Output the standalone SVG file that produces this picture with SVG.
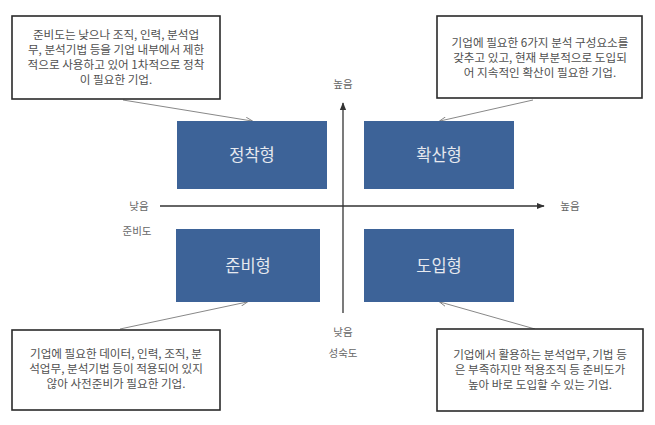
<svg xmlns="http://www.w3.org/2000/svg" width="655" height="425" viewBox="0 0 655 425">
<defs>
<style>
.note{fill:#fff;stroke:#2a2a2a;stroke-width:1.6}
.nt{font-family:"Noto Sans CJK KR","Liberation Sans",sans-serif;font-size:11.6px;fill:#505050;text-anchor:middle}
.blk{fill:#3d6398}
.bt{font-family:"Noto Sans CJK KR","Liberation Sans",sans-serif;font-size:16.5px;fill:#e6e9ef;text-anchor:middle}
.ax{stroke:#333;stroke-width:1.3;fill:none}
.lk{stroke:#888;stroke-width:1;fill:none}
.lbl{font-family:"Noto Sans CJK KR","Liberation Sans",sans-serif;font-size:10.5px;fill:#666;text-anchor:middle}
</style>
<marker id="ah" viewBox="0 0 10 10" refX="9" refY="5" markerWidth="6" markerHeight="6" orient="auto">
<path d="M0,1 L10,5 L0,9 Z" fill="#333"/>
</marker>
<marker id="al" viewBox="0 0 10 10" refX="9" refY="5" markerWidth="7" markerHeight="7" orient="auto">
<path d="M0,1 L10,5 L0,9" fill="none" stroke="#777" stroke-width="1.2"/>
</marker>
</defs>
<rect width="655" height="425" fill="#fff"/>
<g id="connectors">
<line class="ax" x1="160" y1="206" x2="544" y2="206" marker-end="url(#ah)"/>
<line class="ax" x1="343" y1="313" x2="343" y2="103" marker-end="url(#ah)"/>
<line class="lk" x1="123" y1="100" x2="252" y2="121" marker-end="url(#al)"/>
<line class="lk" x1="533" y1="100" x2="440" y2="121" marker-end="url(#al)"/>
<line class="lk" x1="120" y1="329" x2="247" y2="302" marker-end="url(#al)"/>
<line class="lk" x1="535" y1="329" x2="440" y2="302" marker-end="url(#al)"/>
</g>
<g id="axis-labels">
<text class="lbl" x="343" y="88">높음</text>
<text class="lbl" x="139" y="210">낮음</text>
<text class="lbl" x="570" y="210">높음</text>
<text class="lbl" x="137" y="235">준비도</text>
<text class="lbl" x="343" y="336">낮음</text>
<text class="lbl" x="343" y="357">성숙도</text>
</g>
<g id="n-jeongchak">
<rect class="blk" x="177" y="121" width="150" height="68"/>
<text class="bt" x="252" y="161">정착형</text>
</g>
<g id="n-hwaksan">
<rect class="blk" x="364" y="121" width="150" height="68"/>
<text class="bt" x="439" y="161">확산형</text>
</g>
<g id="n-junbi">
<rect class="blk" x="176" y="229" width="144" height="73"/>
<text class="bt" x="248" y="272">준비형</text>
</g>
<g id="n-doip">
<rect class="blk" x="364" y="229" width="150" height="73"/>
<text class="bt" x="439" y="272">도입형</text>
</g>
<g id="note-tl">
<rect class="note" x="12" y="16" width="208" height="83"/>
<text class="nt" x="116" y="39">준비도는 낮으나 조직, 인력, 분석업</text>
<text class="nt" x="116" y="54">무, 분석기법 등을 기업 내부에서 제한</text>
<text class="nt" x="116" y="69">적으로 사용하고 있어 1차적으로 정착</text>
<text class="nt" x="116" y="84">이 필요한 기업.</text>
</g>
<g id="note-tr">
<rect class="note" x="437" y="16" width="205" height="82"/>
<text class="nt" x="540" y="47">기업에 필요한 6가지 분석 구성요소를</text>
<text class="nt" x="540" y="62">갖추고 있고, 현재 부분적으로 도입되</text>
<text class="nt" x="540" y="77">어 지속적인 확산이 필요한 기업.</text>
</g>
<g id="note-bl">
<rect class="note" x="12" y="330" width="208" height="80"/>
<text class="nt" x="116" y="358">기업에 필요한 데이터, 인력, 조직, 분</text>
<text class="nt" x="116" y="373">석업무, 분석기법 등이 적용되어 있지</text>
<text class="nt" x="116" y="388">않아 사전준비가 필요한 기업.</text>
</g>
<g id="note-br">
<rect class="note" x="437" y="329" width="206" height="82"/>
<text class="nt" x="540" y="359">기업에서 활용하는 분석업무, 기법 등</text>
<text class="nt" x="540" y="374">은 부족하지만 적용조직 등 준비도가</text>
<text class="nt" x="540" y="389">높아 바로 도입할 수 있는 기업.</text>
</g>
</svg>
